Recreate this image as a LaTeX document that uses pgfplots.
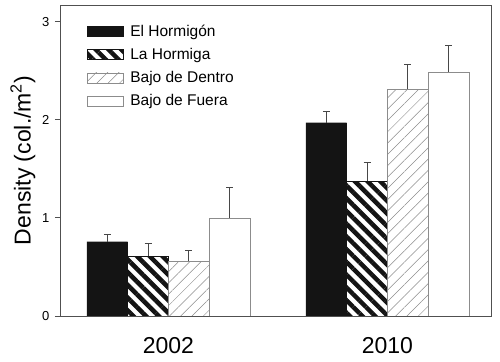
\documentclass[border=0pt]{standalone}
\usepackage{fontspec}
\setmainfont{Liberation Sans}
\usepackage{pgfplots}
\pgfplotsset{compat=1.18}
\usetikzlibrary{patterns.meta}
\definecolor{barblack}{HTML}{141414}
\definecolor{edgegray}{HTML}{8C8C8C}
\definecolor{axgray}{HTML}{505050}
\begin{document}
\begin{tikzpicture}
\begin{axis}[
  scale only axis, width=431pt, height=311pt,
  xmin=-0.495, xmax=1.473, ymin=0, ymax=3.17,
  axis line style={draw=axgray, line width=0.8pt},
  xtick={0,1}, xticklabels={2002,2010},
  x tick label style={font=\fontsize{23}{23}\selectfont, yshift=-13pt},
  x tick style={draw=none},
  ytick={0,1,2,3},
  y tick label style={font=\fontsize{13}{13}\selectfont, xshift=-2pt},
  y tick style={draw=axgray, line width=0.8pt},
  /pgf/number format/assume math mode=true,
  ytick pos=left, tick align=outside, major tick length=5pt,
  ylabel={Density (col./m\textsuperscript{2})},
  ylabel style={font=\fontsize{23}{23}\selectfont, xshift=0pt},
  error bars/y dir=plus, error bars/y explicit,
  error bars/error bar style={line width=0.9pt, draw=black!72},
  error bars/error mark options={rotate=90, mark size=3.5pt, line width=0.9pt, draw=black!72},
  legend image code/.code={\draw[#1] (0pt,-5pt) rectangle (36pt,5pt); \path (41pt,0pt);},
  legend style={at={(0.055,0.95)}, anchor=north west, draw=none, fill=none,
    font=\fontsize{15.5}{15.5}\selectfont, row sep=6.5pt},
  legend cell align=left,
]
\addplot[ybar, bar width=0.186, bar shift=0, fill=barblack, draw=barblack]
  coordinates {(-0.279,0.757) +- (0,0.073) (0.721,1.97) +- (0,0.11)};
\addlegendentry{El Hormigón}
\addplot[ybar, bar width=0.186, bar shift=0, draw=barblack,
  pattern={Lines[angle=-45,distance=9pt,line width=4.5pt]}, pattern color=barblack]
  coordinates {(-0.093,0.61) +- (0,0.13) (0.907,1.375) +- (0,0.185)};
\addlegendentry{La Hormiga}
\addplot[ybar, bar width=0.186, bar shift=0, draw=edgegray,
  pattern={Lines[angle=45,distance=8pt,line width=0.5pt]}, pattern color=edgegray]
  coordinates {(0.093,0.557) +- (0,0.113) (1.093,2.31) +- (0,0.25)};
\addlegendentry{Bajo de Dentro}
\addplot[ybar, bar width=0.186, bar shift=0, fill=white, draw=edgegray]
  coordinates {(0.279,1.0) +- (0,0.31) (1.279,2.49) +- (0,0.27)};
\addlegendentry{Bajo de Fuera}
\end{axis}
\path (current axis.south west) ++(-60pt,-45pt);
\path (current axis.north east) ++(9pt,4pt);
\end{tikzpicture}
\end{document}
